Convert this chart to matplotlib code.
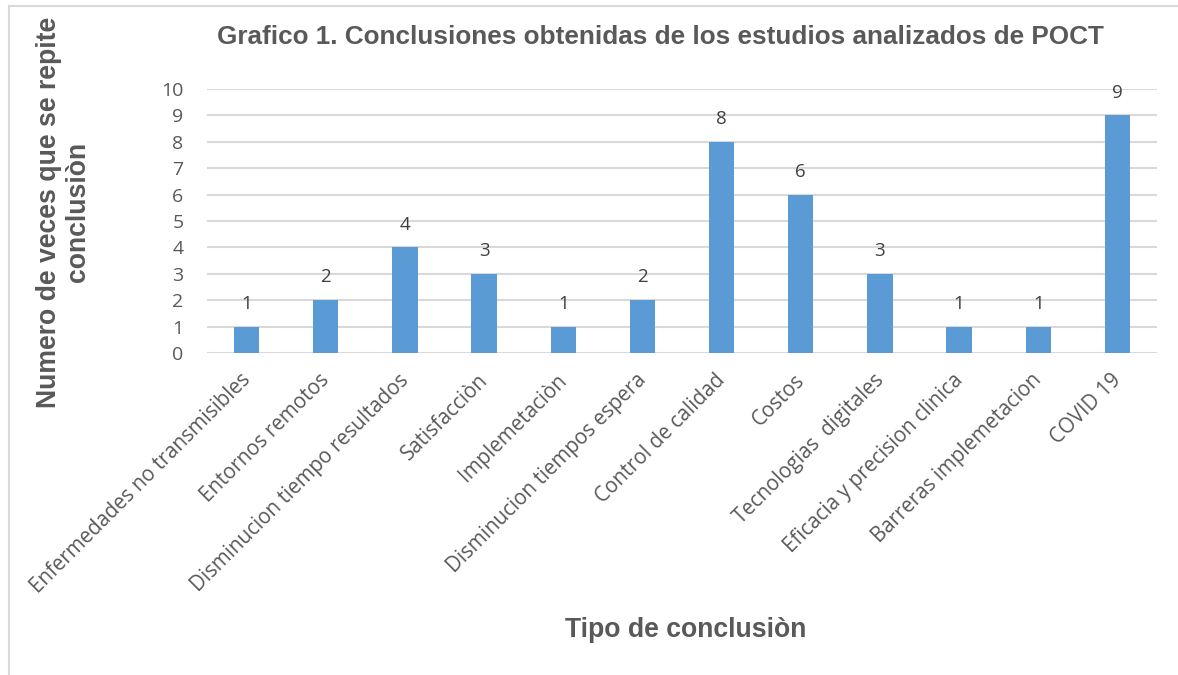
import matplotlib.pyplot as plt
from matplotlib.lines import Line2D
import matplotlib.transforms as mtransforms

categorias = ['Enfermedades no transmisibles', 'Entornos remotos',
              'Disminucion tiempo resultados', 'Satisfacciòn', 'Implemetaciòn',
              'Disminucion tiempos espera', 'Control de calidad', 'Costos',
              'Tecnologias  digitales', 'Eficacia y precision clinica',
              'Barreras implemetacion', 'COVID 19']
valores = [1, 2, 4, 3, 1, 2, 8, 6, 3, 1, 1, 9]
y_ticks = list(range(0, 11))

gris = '#595959'
W, H = 1178, 675

fig = plt.figure(figsize=(W / 100, H / 100), dpi=100)
# marco del grafico (solo visible arriba e izquierda)
fig.lines.append(Line2D([8.5 / W, 8.5 / W], [0, 1 - 5.5 / H], transform=fig.transFigure,
                        color='#d9d9d9', linewidth=1.5))
fig.lines.append(Line2D([8.5 / W, 1], [1 - 5.5 / H, 1 - 5.5 / H], transform=fig.transFigure,
                        color='#d9d9d9', linewidth=1.5))

ax = fig.add_axes([207 / W, 1 - 353 / H, 950 / W, 264 / H])
x = list(range(len(categorias)))
ax.bar(x, valores, width=0.32, color='#5b9bd5', zorder=3)

for xi, v in zip(x, valores):
    ax.annotate(str(v), (xi, v), xytext=(0, 10), textcoords='offset points',
                ha='center', va='bottom', fontsize=13.5, color='#404040',
                family='Open Sans')

ax.set_xlim(-0.5, len(categorias) - 0.5)
ax.set_ylim(0, 10)
ax.set_yticks(y_ticks)
ax.yaxis.grid(True, color='#d9d9d9', linewidth=1.5, zorder=0)
for s in ax.spines.values():
    s.set_visible(False)
ax.tick_params(length=0)
ax.tick_params(axis='y', pad=17)
ax.set_yticklabels([str(t) for t in y_ticks], fontsize=14, color=gris,
                   family='Open Sans')
ax.set_xticks(x)
ax.set_xticklabels(categorias, rotation=45, ha='right', va='top',
                   rotation_mode='anchor', fontsize=14.8, color=gris,
                   family='Open Sans')
ax.tick_params(axis='x', pad=12)
desplaza = mtransforms.ScaledTranslation(-5 / 72, 0, fig.dpi_scale_trans)
for lbl in ax.get_xticklabels():
    lbl.set_transform(lbl.get_transform() + desplaza)

fig.text(660 / W, 1 - 37 / H,
         'Grafico 1. Conclusiones obtenidas de los estudios analizados de POCT',
         ha='center', va='center', fontsize=18.8, fontweight='bold', color=gris,
         family='Liberation Sans')
fig.text(64 / W, 1 - 212 / H, 'Numero de veces que se repite\nconclusiòn',
         ha='center', va='center', rotation=90, fontsize=19.2, fontweight='bold',
         color=gris, family='Liberation Sans', linespacing=1.15)
fig.text(686 / W, 1 - 630 / H, 'Tipo de conclusiòn', ha='center',
         va='center', fontsize=19.2, fontweight='bold', color=gris,
         family='Liberation Sans')

fig.savefig('out.png', dpi=100)
